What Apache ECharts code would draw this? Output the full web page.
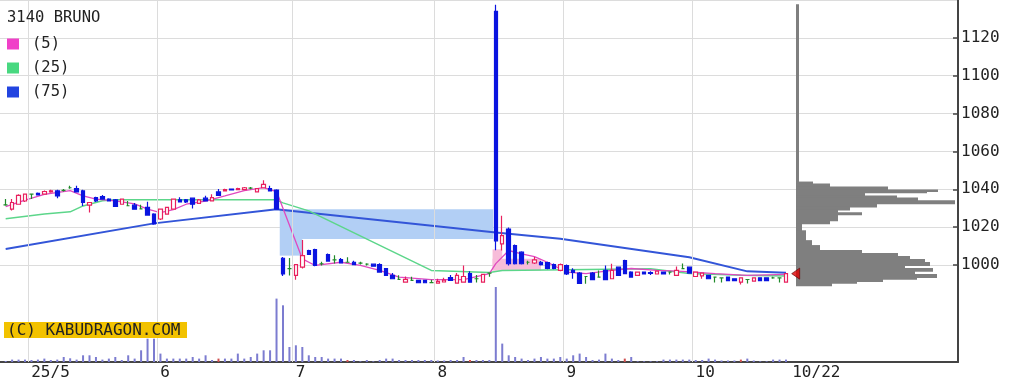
<!DOCTYPE html>
<html><head><meta charset="utf-8">
<script src="https://cdn.jsdelivr.net/npm/echarts@6/dist/echarts.min.js"></script>
<style>html,body{margin:0;padding:0;background:#fff}#c{width:1026px;height:386px}</style>
</head><body><div id="c"></div>
<script>
const stockTitle = '3140 BRUNO';
const maNames = ['(5)', '(25)', '(75)'];
const dayTicks = [3.5, 23.5, 44.5, 66.5, 86.5, 106.5, 121.5];
const dayLabels = ['25/5', '6', '7', '8', '9', '10', '10/22'];
const priceTicks = [1000, 1020, 1040, 1060, 1080, 1100, 1120];

// [open, close, low, high]
const candles = [
[1032,1032,1031.5,1035],[1029.7,1033.2,1029,1035],[1032.3,1037,1032,1037.5],[1034,1037.6,1033.5,1038],
[1037.6,1037.6,1035,1037.6],[1038,1037.2,1037,1038.5],[1037.6,1039,1037.3,1039.5],[1038.8,1039.4,1038.3,1040],
[1039.3,1036.7,1035.5,1040],[1039.6,1039.6,1039,1040.3],[1041,1041,1040.5,1042],[1040.5,1038.8,1038.5,1042],
[1039.3,1033.2,1031.4,1040],[1031.8,1033.2,1028,1033.5],[1035.8,1034.1,1033.5,1036.3],[1036.3,1035,1034.8,1037.2],
[1035,1034,1033.8,1035.5],[1034.6,1031.1,1030.8,1035],[1032.3,1035,1032,1035.3],[1031.5,1031.5,1031.3,1034],
[1031.8,1029.7,1029.5,1033],[1029.8,1029.8,1029.6,1032],[1030.6,1026.6,1026.3,1033.6],[1027.1,1021.9,1021.5,1027.5],
[1024.5,1029.7,1024,1030],[1027.1,1030.6,1026.8,1031],[1029.7,1035,1029.5,1035.3],[1034.6,1033.5,1033.2,1036],
[1034.6,1033.5,1033,1035],[1035.5,1032.3,1030,1035.8],[1032.8,1034.6,1032.6,1035],[1035.5,1034,1033.8,1036.8],
[1034.1,1035.8,1033.9,1037.5],[1038.8,1037,1036.8,1040.3],[1039.3,1040,1039,1040.5],[1040.3,1039.8,1039.5,1040.6],
[1040,1040.5,1039.7,1041],[1040,1041,1039.8,1041.4],[1040.8,1040.8,1040.2,1041.4],[1038.8,1040.5,1038.6,1040.8],
[1041,1042.8,1040.8,1045],[1040.5,1039.3,1039,1042],[1039.8,1029.7,1029.5,1040.2],
[1003.8,995.5,994.5,1004.5],[998.3,998.3,994.7,1004],[994.8,1000.4,992.5,1000.8],[999.1,1005.2,998.4,1013.5],
[1007.9,1005.8,1005.5,1008.3],[1008.4,1000,999.6,1008.8],[1000.9,1000.9,1000,1002],[1005.8,1002.3,1002,1006.3],
[1003,1003,1001,1005.4],[1003.1,1001.4,1001.2,1004],[1001.7,1001.7,1001.5,1004.3],[1001.7,1000.4,1000.2,1002.5],
[1001.2,1001.2,1000.5,1002],[1000.7,1000.7,1000,1001.2],[1000.7,999.6,999.4,1001],[1000.5,996.5,996.2,1001.2],
[998.3,994.8,994.5,998.6],[994.8,993,992.8,996],[992.7,992.7,992.5,994.8],[991.2,992.7,991,994.2],
[992.1,992.1,991.8,994],[992.1,990.9,990.6,992.4],[992.1,990.9,990.6,992.4],[991,991,990.8,992.5],
[990.7,991.6,990.5,993],[991.3,992.3,991,993.5],[993.6,992.1,991.9,995],[990.7,994.8,990.5,996],
[991.2,994.2,991,1000],[995.7,991.2,991,997],[993,993,991,995],[991.2,995.3,991,995.6],
[996,996,994,996.3],[1134,1013,1008,1137.5],[1011.4,1015.7,1007.9,1026.2],[1019.2,1000.9,1000,1020],
[1010.5,1000.9,1000.5,1011],[1007,1000.9,1000.5,1007.5],[1001.7,1001.7,1000.5,1002.5],[1001.3,1003,1000.8,1004.5],
[1001.7,1000.4,1000,1002.3],[1001.5,998.5,998,1002],[1000.5,998.5,998,1001],[997.4,1000.5,997,1001],
[1000,995.5,995,1000.5],[997.4,996.4,993,998.5],[996,990.6,990.4,996.5],[994.2,994.2,990.4,994.5],
[996,992.5,992.2,996.5],[993.9,993.9,993.5,997.4],[997.4,992.5,992.2,1000],[993,997.4,992.8,1000.9],
[999.1,994.8,994.5,999.5],[1002.6,995.7,995.5,1003],[996.5,993.9,993.5,997],[994.8,996.5,994.5,996.8],
[996.5,995.5,995.2,996.8],[996.3,995.8,995,997],[995.5,997,995.2,997.3],[996.5,995.5,995.2,996.8],
[996.5,996.5,995.3,996.8],[994.8,997.4,994.5,999.5],[998.3,998.3,998,1001],[999.1,996,995.8,999.5],
[994.2,996.5,994,996.8],[994.5,996,993,996.3],[994.8,993,992.8,995],[993.9,993.9,991,994.2],
[993.5,993.5,991,993.8],[993.9,992,991.8,994.2],[993,992,991.8,993.3],[991.2,993.5,990,993.8],
[992.6,992.6,990.5,992.9],[991.8,993.5,991.5,993.8],[993.5,992,991.8,993.8],[993.5,992,991.8,993.8],
[993.5,993.5,993,994],[993.5,993.5,991,993.8],[991.2,995.7,991,996]
];

const volumes = [
1,2.4,2.4,2.4,2,2.4,3.4,2,2.4,5,3.7,2.4,6.7,6.7,5,2.4,3.4,5,2,6.7,
3.4,11.7,23.3,23.3,8.4,3.4,3.4,3.4,3.4,5,3.4,6.7,2,3.4,3.4,3.4,8.4,3.4,5,8.4,
11.7,11.7,63.4,56.7,15,16.7,15,6.7,5,5,3.4,3.4,3.4,2,2,0.7,2,0.7,2,3.4,
3.4,2,2,2,2,2,2,1.5,1.5,2,2,5,2,2,2,2,75,18.4,6.7,5,
3.4,2,3.4,5,3.4,3.4,5,3.4,6.7,8.4,5,2,2.4,8.4,3.4,2,3.4,5,0.7,0.7,
0.7,0.7,2.4,2.4,2.4,2.4,2.4,2,2,3.4,2.4,1.5,1.5,1.5,2.4,3.4,1.5,0.7,0.7,2.4,
2.4,2.4
];
const redVolumeIdx = [33, 53, 72, 96, 114];

// moving averages read as [candle index, price] vertices
const ma5 = [[0,1031],[3,1034.5],[6,1037.5],[10,1039.5],[12,1036.7],[14,1035],[17,1034.1],[20,1032.5],
[22,1029.7],[24,1027.9],[26,1029.5],[28,1032.3],[31,1034],[34,1036.7],[37,1039.5],[40,1041],[42,1039],
[46,1003.5],[48,1000],[52,1001.7],[55,1000],[58,997.4],[61,993.9],[66,992.5],[71,992.5],[75,995.7],
[76,1001],[78,1007.9],[80,1006.1],[82,1004.7],[84,1001.7],[87,996.5],[90,995.7],[94,997.4],[97,998.4],
[101,997.4],[105,996.9],[110,995.7],[115,994.8],[121,995.3]];
const ma25 = [[0,1024.6],[6,1027.2],[10,1028.3],[12,1031.4],[15,1034.1],[17,1034.6],[42,1034.6],[43,1033],
[47,1028.8],[66,997.4],[75,996.3],[77,997.4],[100,998.3],[106,995.8],[114,994.8],[121,994.5]];
const ma75 = [[0,1008.7],[23,1022.2],[42,1029.7],[43,1029.2],[76,1017.4],[86,1014.1],[106,1004.3],[115,996.9],[121,996.2]];

// gap windows: [from index, to index, low, high]
const gapDownWindows = [[42.5, 75.6, 1014, 1029.7], [42.5, 46, 1005.2, 1014]];
const gapUpWindows = [[75.5, 77, 997.4, 1008.5], [75.5, 83, 997.4, 1003.5]];

// volume-at-price profile: [low, high, volume]
const profile = [
[1044,1137.5,3],[1043,1044,17],[1041.4,1043,34],[1039.8,1041.4,92],[1039,1039.8,142],[1038.3,1039,131],
[1036.7,1038.3,69],[1035.6,1036.7,101],[1034.1,1035.6,122],[1032.5,1034.1,159],[1030.9,1032.5,81],
[1029.3,1030.9,54],[1027.8,1029.3,42],[1026.7,1027.8,66],[1023.6,1026.7,42],[1022,1023.6,34],
[1018.3,1022,6],[1013.1,1018.3,10],[1010.5,1013.1,16],[1007.9,1010.5,24],[1006.3,1007.9,66],
[1004.7,1006.3,102],[1003.1,1004.7,114],[1001.6,1003.1,129],[1000,1001.6,134],[998.4,1000,109],
[996.9,998.4,137],[995.3,996.9,119],[993.7,995.3,141],[992.7,993.7,121],[991.6,992.7,87],
[990.6,991.6,61],[989.3,990.6,36]
];

const FONT = 'DejaVu Sans Mono';
const X_MIN = -0.879, X_MAX = 147.67;
const chart = echarts.init(document.getElementById('c'), null, {renderer: 'canvas'});

const rectRender = (fill) => (params, api) => {
  const p0 = api.coord([api.value(0), api.value(3)]);
  const p1 = api.coord([api.value(1), api.value(2)]);
  return {type: 'rect', shape: {x: p0[0], y: p0[1], width: p1[0] - p0[0], height: p1[1] - p0[1]}, style: {fill: fill}};
};

const last = candles[candles.length - 1];

chart.setOption({
  animation: false,
  backgroundColor: '#ffffff',
  title: {text: stockTitle, left: 7, top: 10, padding: 0,
    textStyle: {fontFamily: FONT, fontSize: 15.5, fontWeight: 'normal', color: '#222'}},
  legend: {data: maNames, orient: 'vertical', left: 7, top: 36, icon: 'rect', itemWidth: 12, itemHeight: 11,
    itemGap: 8, selectedMode: false, padding: 0,
    textStyle: {fontFamily: FONT, fontSize: 15.5, color: '#222', lineHeight: 15, padding: [0, 0, 0, 8]}},
  grid: [
    {left: 0, top: 0, width: 958, height: 362},
    {left: 0, top: -2.17, width: 958, height: 267.17},
    {left: 0, top: -2.17, width: 958, height: 343.5},
    {left: 796, top: -2.17, width: 162, height: 343.5}
  ],
  xAxis: [
    {gridIndex: 0, type: 'value', min: X_MIN, max: X_MAX,
      axisLine: {show: true, onZero: false, lineStyle: {color: '#444', width: 2}},
      axisTick: {show: false, customValues: dayTicks},
      axisLabel: {customValues: dayTicks, align: 'left', margin: 3, padding: [0, 0, 0, 3],
        fontFamily: FONT, fontSize: 16, color: '#222',
        formatter: (v) => { const k = dayTicks.findIndex(t => Math.abs(t - v) < 0.01); return k >= 0 ? dayLabels[k] : ''; }},
      splitLine: {show: false}},
    {gridIndex: 1, type: 'value', min: X_MIN, max: X_MAX, show: false},
    {gridIndex: 2, type: 'value', min: X_MIN, max: X_MAX, show: false},
    {gridIndex: 3, type: 'value', min: 0, max: 162, show: false}
  ],
  yAxis: [
    {gridIndex: 0, type: 'value', position: 'right', min: 0, max: 362,
      axisLine: {show: true, onZero: false, lineStyle: {color: '#444', width: 2}},
      axisTick: {show: false}, axisLabel: {show: false}, splitLine: {show: false}},
    {gridIndex: 1, type: 'value', position: 'right', min: 1000, max: 1140, interval: 20,
      axisLine: {show: false, onZero: false},
      axisTick: {show: true, inside: true, length: 5, lineStyle: {color: '#444', width: 1.5}},
      axisLabel: {showMaxLabel: false, margin: 3, fontFamily: FONT, fontSize: 16, color: '#222',
        formatter: (v) => String(v)},
      splitLine: {show: true, lineStyle: {color: '#dcdcdc', width: 1}}},
    {gridIndex: 2, type: 'value', min: 960, max: 1140, show: false, axisLine: {onZero: false}},
    {gridIndex: 3, type: 'value', min: 960, max: 1140, show: false, axisLine: {onZero: false}}
  ],
  series: [
    {type: 'bar', name: 'volume', xAxisIndex: 0, yAxisIndex: 0, barWidth: 2, z: 1,
      data: volumes.map((v, i) => [i, v]),
      itemStyle: {color: (p) => redVolumeIdx.includes(p.data[0]) ? '#d05050' : '#7c7cd0'},
      markLine: {silent: true, symbol: 'none', label: {show: false}, animation: false,
        lineStyle: {color: '#dcdcdc', width: 1, type: 'solid'},
        data: dayTicks.slice(0, dayTicks.length - 1).map(v => ({xAxis: v}))}},
    {type: 'custom', name: 'gapDown', xAxisIndex: 2, yAxisIndex: 2, z: 2,
      renderItem: rectRender('#b2cff5'), data: gapDownWindows},
    {type: 'custom', name: 'gapUp', xAxisIndex: 2, yAxisIndex: 2, z: 2,
      renderItem: rectRender('#f7bcd9'), data: gapUpWindows},
    {type: 'custom', name: 'profile', xAxisIndex: 3, yAxisIndex: 3, z: 2,
      renderItem: (params, api) => {
        const p0 = api.coord([0, api.value(1)]);
        const p1 = api.coord([api.value(2), api.value(0)]);
        return {type: 'rect', shape: {x: p0[0], y: p0[1] - 0.5, width: p1[0] - p0[0], height: p1[1] - p0[1] + 1},
          style: {fill: '#7f7f7f'}};
      },
      data: profile},
    {type: 'line', name: maNames[2], xAxisIndex: 2, yAxisIndex: 2, z: 3, symbol: 'none', showSymbol: false,
      color: '#2244e0', lineStyle: {color: '#3355d8', width: 2}, data: ma75},
    {type: 'line', name: maNames[1], xAxisIndex: 2, yAxisIndex: 2, z: 3, symbol: 'none', showSymbol: false,
      color: '#48d880', lineStyle: {color: '#5cd68a', width: 1.5}, data: ma25},
    {type: 'line', name: maNames[0], xAxisIndex: 2, yAxisIndex: 2, z: 3, symbol: 'none', showSymbol: false,
      color: '#f040c8', lineStyle: {color: '#e048c0', width: 1.3}, data: ma5},
    {type: 'candlestick', name: 'price', xAxisIndex: 2, yAxisIndex: 2, z: 4, barWidth: 4,
      encode: {x: 0, y: [1, 2, 3, 4]},
      data: candles.map((c, i) => [i, c[0], c[1], c[2], c[3]]),
      itemStyle: {color: '#ffffff', color0: '#0a14e0', borderColor: '#e8205e', borderColor0: '#0a14e0',
        borderColorDoji: '#1f8a2a', borderWidth: 1.2}},
    {type: 'scatter', name: 'last', xAxisIndex: 2, yAxisIndex: 2, z: 5, symbol: 'triangle', symbolRotate: 90,
      symbolSize: [11, 8], itemStyle: {color: '#e00000', borderColor: '#600000', borderWidth: 0.8},
      data: [[candles.length + 0.5, last[1]]]}
  ],
  graphic: [
    {type: 'rect', left: 4, top: 322, shape: {width: 183, height: 16}, style: {fill: '#f2c200'}, z: 10},
    {type: 'text', left: 7, top: 322.5, z: 11,
      style: {text: '(C) KABUDRAGON.COM', font: '16px "DejaVu Sans Mono"', fill: '#222'}}
  ]
});
</script>
</body></html>
